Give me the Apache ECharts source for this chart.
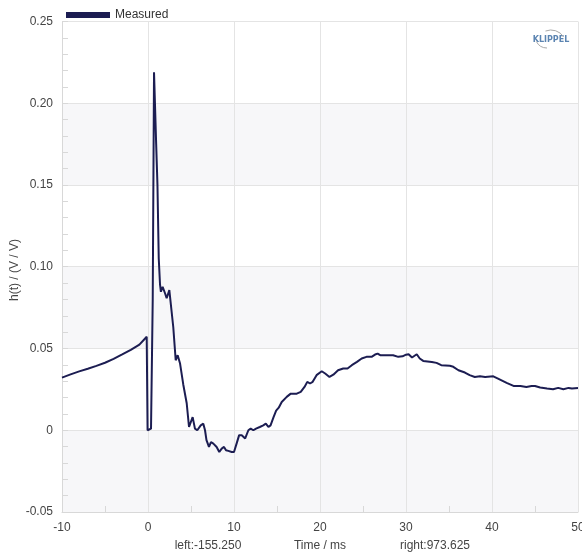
<!DOCTYPE html>
<html>
<head>
<meta charset="utf-8">
<script src="https://cdn.jsdelivr.net/npm/echarts@6/dist/echarts.min.js"></script>
<style>
html,body{margin:0;padding:0;background:#fff;}
#chart{width:582px;height:557px;}
</style>
</head>
<body>
<div id="chart"></div>
<script>
var seriesName = 'Measured';
var time = [-10,-9,-8,-7,-6,-5,-4,-3,-2,-1,-0.15,-0.1,-0.05,0.1,0.35,0.55,0.7,0.78,0.95,1.1,1.25,1.4,1.5,1.7,1.98,2.17,2.48,2.67,2.94,3.22,3.45,3.72,4.1,4.5,4.77,4.96,5.19,5.46,5.73,6.13,6.43,6.63,6.8,7.09,7.32,7.6,7.98,8.29,8.57,8.84,9.07,9.34,9.73,10.0,10.3,10.6,10.9,11.3,11.67,11.94,12.25,12.56,13.0,13.4,13.7,14.0,14.25,14.6,14.9,15.2,15.55,16.13,16.6,17.3,17.76,18.2,18.52,18.84,19.15,19.6,20.2,20.6,21.1,21.55,22.1,22.7,23.2,23.7,24.3,24.85,25.4,26.0,26.4,26.7,27.0,27.75,28.5,29.1,29.6,30.0,30.3,30.7,31.25,31.6,32.0,33.0,33.55,34.1,35.1,35.5,36.1,36.85,37.4,38.0,38.6,39.2,40.15,40.7,41.7,42.5,43.3,44.0,44.6,45.0,45.6,46.4,47.1,47.7,48.3,48.9,49.3,50.0];
var response = [0.0322,0.0342,0.0360,0.0376,0.0394,0.0413,0.0437,0.0464,0.0492,0.0524,0.0572,0.0575,0.0,-0.0005,0.001,0.08,0.219,0.219,0.175,0.15,0.105,0.089,0.0847,0.0877,0.0838,0.0807,0.0857,0.0847,0.063,0.0428,0.0459,0.041,0.028,0.0165,0.002,0.0012,0.008,0.001,0.0,0.003,0.004,0.0,-0.006,-0.0102,-0.0072,-0.0082,-0.0102,-0.0133,-0.0112,-0.0102,-0.0122,-0.0126,-0.0133,-0.0133,-0.0082,-0.003,-0.003,-0.005,0.0,0.001,0.0,0.001,0.002,0.003,0.004,0.002,0.003,0.008,0.012,0.0138,0.0173,0.0204,0.0224,0.0224,0.0235,0.0265,0.0296,0.0286,0.0296,0.0337,0.0361,0.0347,0.0326,0.034,0.0367,0.0378,0.0378,0.0398,0.0418,0.0439,0.0449,0.0449,0.0463,0.0469,0.0459,0.0459,0.0459,0.0449,0.0452,0.0462,0.0465,0.0445,0.0465,0.0439,0.0424,0.0418,0.0412,0.0398,0.0394,0.0388,0.0367,0.0353,0.0337,0.0326,0.033,0.0326,0.033,0.0316,0.029,0.0271,0.0271,0.0265,0.0271,0.0271,0.0261,0.0255,0.0251,0.0259,0.0251,0.0259,0.0255,0.0258];
var xName = 'Time / ms';
var yName = 'h(t) / (V / V)';
var leftText = 'left:-155.250';
var rightText = 'right:973.625';
var brandText = 'KLIPPEL';

var data = time.map(function(t, i){ return [t, response[i]]; });
var font = 'Liberation Sans, Arial, sans-serif';
var chart = echarts.init(document.getElementById('chart'), null, {renderer:'canvas'});
chart.setOption({
  animation:false,
  backgroundColor:'#fff',
  grid:{left:62, right:4, top:21.5, bottom:45, containLabel:false, outerBoundsMode:'none'},
  legend:{
    show:true, left:61, top:4, itemWidth:44, itemHeight:6, icon:'rect',
    itemGap:10,
    textStyle:{fontFamily:font, fontSize:12, color:'#333'},
    data:[seriesName]
  },
  xAxis:{
    type:'value', min:-10, max:50, interval:10,
    axisLine:{show:true, onZero:false, lineStyle:{color:'#d8d8d8'}},
    axisTick:{show:false, inside:true},
    minorTick:{show:true, splitNumber:2, length:6, lineStyle:{color:'#d8d8d8'}},
    axisLabel:{fontFamily:font, fontSize:12, color:'#444', margin:10},
    splitLine:{show:true, lineStyle:{color:'#e4e4e4'}}
  },
  yAxis:{
    type:'value', min:-0.05, max:0.25, interval:0.05,
    axisLine:{show:true, onZero:false, lineStyle:{color:'#d8d8d8'}},
    axisTick:{show:true, inside:true, length:6, lineStyle:{color:'#d8d8d8'}},
    minorTick:{show:true, splitNumber:5, length:6, lineStyle:{color:'#d8d8d8'}},
    axisLabel:{fontFamily:font, fontSize:12, color:'#444', margin:9,
      formatter:function(v){ return Math.abs(v) < 1e-9 ? '0' : v.toFixed(2); }},
    splitLine:{show:true, lineStyle:{color:'#e4e4e4'}},
    splitArea:{show:true, areaStyle:{color:['#f7f7f9','#ffffff']}}
  },
  graphic:[
    {type:'text', x:15, y:270, rotation:Math.PI/2, z:100, style:{text:yName, fontFamily:font, fontSize:12, fill:'#444', align:'center', verticalAlign:'middle'}},
    {type:'text', x:320, y:546, z:100, style:{text:xName, fontFamily:font, fontSize:12, fill:'#444', align:'center', verticalAlign:'middle'}},
    {type:'text', x:208, y:546, z:100, style:{text:leftText, fontFamily:font, fontSize:12, fill:'#444', align:'center', verticalAlign:'middle'}},
    {type:'text', x:435, y:546, z:100, style:{text:rightText, fontFamily:font, fontSize:12, fill:'#444', align:'center', verticalAlign:'middle'}},
    {type:'text', x:551, y:40, z:100, style:{text:brandText, fontFamily:'DejaVu Sans, sans-serif', fontWeight:'bold', fontSize:8, fill:'#5b84b1', align:'center', verticalAlign:'middle'}},
    {type:'arc', z:100, shape:{cx:551, cy:45, r:15, startAngle:-Math.PI*0.62, endAngle:-Math.PI*0.18}, style:{stroke:'#a8a8a8', lineWidth:1, fill:null}},
    {type:'arc', z:100, shape:{cx:547, cy:36, r:12, startAngle:Math.PI*0.5, endAngle:Math.PI*0.85}, style:{stroke:'#a8a8a8', lineWidth:1, fill:null}}
  ],
  series:[{
    name:seriesName, type:'line', data:data, showSymbol:false, smooth:false,
    lineStyle:{color:'#1c1d52', width:2}, itemStyle:{color:'#1c1d52'}
  }]
});
</script>
</body>
</html>
